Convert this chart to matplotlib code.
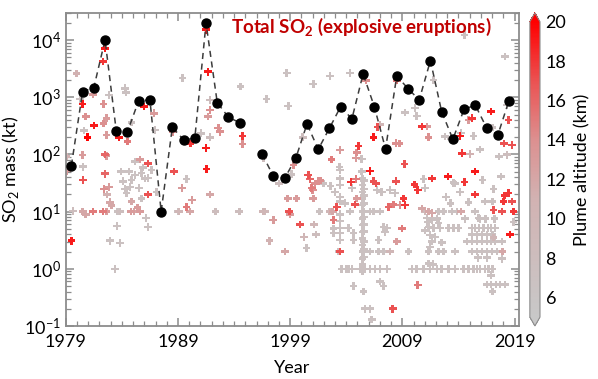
import numpy as np
import matplotlib
matplotlib.use('Agg')
import matplotlib.pyplot as plt
from matplotlib.colors import LinearSegmentedColormap

plt.rcParams['font.family'] = ['Lato', 'DejaVu Sans']
plt.rcParams['mathtext.fontset'] = 'custom'
plt.rcParams['mathtext.rm'] = 'Lato'
plt.rcParams['mathtext.bf'] = 'Lato:bold'
plt.rcParams['axes.unicode_minus'] = False

# annual total SO2 from explosive eruptions (kt), 1979-2018 (1995: none)
years = np.arange(1979, 2019)
annual_total = [64, 1260, 1480, 10100, 258, 251, 875, 900, 10, 300,
                180, 192, 19900, 807, 448, 360, np.nan, 101, 42, 38,
                86, 342, 123, 288, 687, 419, 2570, 687, 125, 2370,
                1420, 900, 4390, 562, 185, 619, 727, 295, 217, 875]

# individual eruptions: decimal year, SO2 mass (kt), plume altitude (km)
erupt_year = [
    # 1979-1989
    1979.12, 1979.51, 1979.65, 1979.05, 1979.95, 1980.25, 1980.49, 1980.78, 1980.94, 1980.49,
    1980.54, 1980.61, 1980.49, 1980.78, 1980.54, 1981.44, 1981.50, 1981.44, 1982.33, 1982.50,
    1982.36, 1982.63, 1982.36, 1982.63, 1982.48, 1982.63, 1982.48, 1982.86, 1982.33, 1982.63,
    1982.39, 1982.86, 1982.68, 1982.93, 1983.08, 1983.61, 1983.82, 1983.58, 1982.93, 1983.82,
    1983.37, 1983.73, 1984.26, 1984.35, 1984.50, 1984.86, 1985.16, 1985.60, 1985.96, 1986.34,
    1986.88, 1986.94, 1988.57, 1988.66, 1984.11, 1984.26, 1983.91, 1984.65, 1984.71, 1984.41,
    1984.86, 1985.16, 1985.75, 1986.05, 1985.90, 1986.34, 1986.65, 1985.54, 1985.75, 1984.86,
    1984.80, 1985.07, 1985.40, 1985.60, 1986.14, 1986.34, 1986.34, 1987.09, 1989.02,
    # 1989-1999
    1989.41, 1990.10, 1991.04, 1991.49, 1991.69, 1991.49, 1991.55, 1991.85, 1991.69, 1991.85,
    1992.59, 1992.74, 1991.85, 1994.76, 1994.76, 1994.58, 1996.90, 1996.60, 1989.77, 1989.37,
    1990.27, 1989.77, 1989.08, 1990.06, 1991.85, 1992.35, 1994.46, 1996.60, 1996.75, 1997.49,
    1997.14, 1998.54, 1998.78, 1998.92, 1998.98, 1998.00, 1999.13, 1999.30, 1998.69, 1998.83,
    1999.58, 1999.87,
    # 2000-2008
    2001.06, 2002.55, 2004.33, 2005.76, 2000.12, 2002.70, 2003.44, 2003.38, 2005.08, 2004.93,
    2004.87, 2005.38, 2006.41, 2006.77, 2007.01, 2008.44, 2008.73, 2008.50, 2000.61, 2000.77,
    2001.21, 2001.51, 2001.72, 2000.92, 2001.06, 2001.95, 2001.12, 2000.23, 2001.30, 2001.60,
    2002.49, 2002.79, 2003.15, 2002.85, 2003.44, 2003.44, 2003.44, 2003.44, 2003.44, 2003.44,
    2003.44, 2003.44, 2003.44, 2003.44, 2003.44, 2002.85, 2004.18, 2004.63, 2004.63, 2004.42,
    2004.49, 2004.87, 2005.38, 2006.12, 2005.45, 2005.45, 2005.45, 2005.45, 2005.45, 2005.45,
    2005.45, 2005.45, 2005.45, 2005.45, 2005.45, 2005.45, 2005.45, 2005.45, 2005.45, 2005.60,
    2005.60, 2005.60, 2005.60, 2005.60, 2005.60, 2005.60, 2005.60, 2005.60, 2005.60, 2005.60,
    2005.60, 2004.78, 2004.93, 2006.12, 2003.59, 2004.04, 2004.18, 2004.49, 2005.23, 2005.67,
    2006.12, 2006.56, 2007.01, 2007.61, 2006.41, 2006.65, 2006.72, 2007.16, 2007.90, 2008.44,
    2008.35, 2008.20, 2007.75, 2007.01, 2006.41, 2006.12, 2007.31, 2007.61, 2007.46, 2006.86,
    2006.86, 2007.31, 2007.90, 2008.50, 2008.95, 2008.14, 2004.63, 2005.52, 2007.01, 2007.31,
    2005.67, 2006.12, 2006.27, 2003.29, 2000.47, 2001.01, 2002.60, 2003.00, 2003.90, 2004.33,
    2002.85,
    # 2009-2018
    2009.18, 2009.24, 2009.09, 2009.24, 2008.80, 2010.13, 2010.73, 2011.18, 2011.77, 2012.81,
    2013.34, 2014.15, 2014.30, 2014.24, 2015.04, 2015.19, 2014.89, 2015.33, 2015.49, 2015.93,
    2016.91, 2017.03, 2018.07, 2018.31, 2018.46, 2018.76, 2018.16, 2014.53, 2010.28, 2011.32,
    2011.62, 2013.55, 2017.63, 2018.31, 2013.05, 2014.53, 2015.49, 2010.07, 2010.37, 2010.87,
    2011.03, 2013.70, 2014.15, 2016.14, 2017.12, 2017.80, 2018.10, 2018.46, 2018.01, 2018.76,
    2018.90, 2018.61, 2017.03, 2017.12, 2017.87, 2016.38, 2015.49, 2014.89, 2014.24, 2013.85,
    2013.41, 2012.66, 2012.21, 2011.32, 2010.73, 2009.54, 2010.37, 2011.18, 2011.62, 2012.07,
    2012.21, 2011.32, 2011.77, 2012.36, 2011.47, 2011.92, 2011.62, 2011.47, 2012.51, 2012.66,
    2012.21, 2011.32, 2011.03, 2011.26, 2011.03, 2013.10, 2013.55, 2014.00, 2015.19, 2015.49,
    2015.84, 2016.23, 2016.62, 2016.91, 2017.27, 2015.19, 2015.64, 2016.08, 2016.53, 2017.03,
    2014.74, 2015.19, 2015.64, 2016.08, 2016.53, 2016.91, 2017.27, 2017.87, 2013.70, 2015.19,
    2015.64, 2016.08, 2016.53, 2016.98, 2017.42, 2015.73, 2016.53, 2009.84, 2010.28, 2010.87,
    2011.47, 2012.07, 2012.51, 2013.10, 2013.70, 2014.44, 2014.89, 2015.33, 2015.64, 2015.93,
    2016.38, 2016.67, 2017.03, 2011.32, 2011.72, 2016.91, 2016.53, 2016.91, 2017.33, 2017.72,
    2018.16, 2017.03, 2017.92, 2017.12, 2017.87, 2018.90, 2015.78, 2012.90, 2013.30, 2014.60,
    2015.90, 2016.40, 2017.20, 2011.62,
]
erupt_mass = [
    # 1979-1989
    51, 3.1, 10.2, 92, 2600, 940, 770, 460, 200, 98,
    61, 261, 10, 9, 36, 10, 320, 1130, 4200, 7200,
    770, 430, 350, 220, 100, 95, 46, 1100, 10, 10,
    25, 27, 20, 14.6, 12.7, 10, 10, 5.6, 3.1, 2.8,
    1.0, 200, 1440, 1210, 168, 360, 75, 82, 690, 70,
    526, 269, 250, 50, 34, 25, 50, 50, 27, 21,
    36, 44, 47, 38, 59, 39, 53, 26, 17, 15,
    10, 10, 11.7, 10, 7.8, 5.4, 20, 22, 10,
    # 1989-1999
    2160, 155, 235, 15200, 2800, 130, 56, 600, 460, 900,
    288, 250, 200, 211, 153, 1540, 927, 86, 37, 26,
    16, 12, 10, 10, 20, 10, 10, 10, 10, 7.1,
    3.1, 2.0, 17, 10, 9, 31, 45, 66, 2640, 706,
    17, 6,
    # 2000-2008
    1720, 2370, 2640, 1960, 200, 82, 120, 60, 141, 108,
    86, 84, 200, 300, 334, 157, 155, 1960, 44, 37,
    31, 34, 35, 26, 17, 31, 6, 3.6, 4.0, 10,
    10, 10, 12, 7.1, 53, 38, 29, 18, 15, 9,
    6.8, 5.2, 4.2, 3.2, 2.0, 4.2, 5.2, 4.2, 3.2, 33,
    26, 37, 50, 51, 38, 29, 22, 17, 13, 10,
    7.6, 5.8, 4.4, 3.4, 2.6, 2.0, 1.5, 1.2, 0.9, 35,
    25, 19, 14, 10, 8, 6, 4.5, 3, 2.2, 1.6,
    1.0, 13.4, 17, 2.0, 1.0, 1.0, 1.0, 1.0, 1.0, 1.0,
    1.0, 1.0, 1.0, 1.0, 34, 31, 24, 22, 24, 34,
    21, 13.4, 12, 10, 10, 10, 5.4, 5.2, 4.4, 3.2,
    2.0, 2.0, 2.0, 3.0, 5.1, 0.2, 0.5, 0.4, 0.6, 0.5,
    0.2, 0.2, 0.13, 2.0, 2.3, 24, 28, 22, 14, 10,
    5.1,
    # 2009-2018
    68, 540, 17, 13, 13, 645, 307, 307, 2000, 205,
    190, 211, 105, 236, 102, 430, 400, 211, 50, 123,
    562, 295, 155, 736, 402, 147, 5160, 12400, 472, 200,
    38, 32, 92, 99, 41, 33, 20, 30, 24, 37,
    26, 31, 22, 36, 25, 41, 19, 21, 15, 15,
    10, 4.0, 15, 10.6, 10, 15, 10, 14.6, 10, 10,
    10, 10, 10, 10, 11.4, 2.0, 0.52, 7.8, 7.1, 7.6,
    6.3, 5.4, 5.2, 5.2, 3.9, 3.6, 3.0, 2.4, 2.9, 2.0,
    2.0, 2.0, 4.7, 6.6, 10, 5.2, 5.2, 5.2, 5.2, 5.2,
    5.2, 5.2, 5.2, 5.2, 5.2, 4.0, 4.0, 4.0, 4.0, 4.0,
    3.0, 3.0, 3.0, 3.0, 3.0, 3.0, 3.0, 3.0, 2.0, 2.0,
    2.0, 2.0, 2.0, 2.0, 2.0, 1.56, 1.56, 1.0, 1.0, 1.0,
    1.0, 1.0, 1.0, 1.0, 1.0, 1.0, 1.0, 1.0, 1.0, 1.0,
    1.0, 1.0, 1.0, 1.24, 1.2, 0.77, 0.53, 0.53, 0.53, 0.53,
    0.53, 0.4, 2.0, 3.5, 1.5, 6.6, 7.8, 18, 14, 7.5,
    7.5, 7.5, 7.5, 9.5,
]
erupt_alt = [
    # 1979-1989
    13, 19, 8, 11, 11, 7, 19, 14, 20, 13,
    7, 7, 12, 12, 17, 15, 19, 13, 18, 19,
    14, 13, 14, 13, 16, 13, 16, 7, 15, 13,
    14, 13, 11, 12, 12, 7, 8, 7, 7, 7,
    7, 19, 7, 7, 15, 7, 7, 13, 19, 17,
    13, 7, 14, 17, 7, 7, 7, 7, 7, 7,
    7, 7, 7, 7, 7, 7, 7, 7, 7, 12,
    13, 12, 13, 13, 7, 7, 17, 7, 7,
    # 1989-1999
    7, 18, 7, 19, 19, 19, 19, 14, 13, 8,
    14, 14, 8, 18, 14, 7, 7, 8, 7, 13,
    13, 15, 10, 12, 12, 8, 8, 10, 9, 13,
    11, 12, 13, 17, 13, 8, 7, 14, 7, 7,
    13, 17,
    # 2000-2008
    7, 7, 7, 14, 8, 15, 13, 7, 18, 14,
    13, 7, 19, 17, 10, 14, 14, 15, 17, 16,
    14, 14, 14, 15, 13, 7, 10, 10, 8, 7,
    10, 12, 17, 15, 7, 7, 7, 7, 7, 7,
    7, 7, 7, 7, 17, 7, 7, 7, 7, 18,
    7, 15, 7, 19, 7, 7, 7, 7, 7, 7,
    7, 7, 7, 7, 7, 7, 7, 7, 7, 7,
    7, 7, 7, 7, 7, 7, 7, 7, 7, 7,
    7, 17, 13, 7, 7, 7, 7, 7, 7, 7,
    7, 7, 7, 7, 17, 17, 7, 7, 7, 17,
    7, 15, 16, 7, 7, 7, 7, 7, 7, 7,
    7, 7, 10, 13, 15, 17, 7, 7, 7, 7,
    7, 7, 7, 7, 7, 14, 7, 7, 7, 7,
    7,
    # 2009-2018
    17, 7, 18, 18, 14, 7, 18, 13, 7, 7,
    7, 19, 18, 7, 11, 18, 13, 7, 19, 7,
    19, 7, 17, 7, 17, 17, 7, 7, 7, 14,
    18, 7, 7, 8, 19, 18, 18, 18, 18, 7,
    7, 7, 7, 7, 7, 7, 18, 18, 18, 17,
    18, 19, 7, 17, 17, 7, 7, 7, 12, 7,
    7, 7, 7, 12, 12, 7, 15, 7, 7, 7,
    7, 7, 7, 7, 7, 7, 7, 7, 7, 7,
    7, 7, 7, 7, 9, 7, 7, 7, 7, 7,
    7, 7, 7, 7, 7, 7, 7, 7, 7, 7,
    7, 7, 7, 7, 7, 7, 7, 7, 7, 7,
    7, 7, 7, 7, 7, 7, 7, 7, 7, 7,
    7, 7, 7, 7, 7, 7, 7, 7, 7, 7,
    7, 7, 7, 7, 7, 7, 7, 7, 7, 7,
    7, 7, 12, 10, 7, 7, 7, 7, 7, 7,
    7, 7, 7, 12,
]

cmap = LinearSegmentedColormap.from_list(
    'grey_red', [(0.0, '#c8c8c8'), (0.4, '#d2b2b2'), (0.6, '#dc9090'),
                 (0.8, '#eb5252'), (1.0, '#ff0000')])

fig = plt.figure(figsize=(5.98, 3.79), dpi=100)
ax = fig.add_axes([0.110, 0.140, 0.758, 0.826])

ex = np.array(erupt_year)
em = np.array(erupt_mass)
ea = np.array(erupt_alt)
order = np.argsort(ea)
sc = ax.scatter(ex[order], em[order], c=ea[order], cmap=cmap, vmin=5, vmax=20,
                marker='P', s=30, linewidths=0, zorder=2)

ax.plot(years + 0.5, annual_total, linestyle=(0, (4, 3)), color='#3c3c3c',
        linewidth=1.1, zorder=3)
ax.plot(years + 0.5, annual_total, 'o', color='black', markersize=6.5, zorder=4)

ax.set_yscale('log')
ax.set_ylim(0.1, 3e4)
ax.set_xlim(1979, 2019.4)
ax.set_xticks([1979, 1989, 1999, 2009, 2019])
ax.set_xticks(np.arange(1979, 2020), minor=True)

for s in ax.spines.values():
    s.set_color('#8c8c8c')
    s.set_linewidth(1.3)
ax.tick_params(which='both', direction='in', top=True, right=True,
               color='#8c8c8c', labelsize=13)
ax.tick_params(which='major', length=6, width=1.1)
ax.tick_params(which='minor', length=3.5, width=0.9)
ax.tick_params(axis='x', pad=6)

ax.set_ylabel('SO$_2$ mass (kt)', fontsize=13, labelpad=2)
ax.set_xlabel('Year', fontsize=13, labelpad=7)

ax.text(0.94, 0.955, r'Total SO$_\mathbf{2}$ (explosive eruptions)',
        transform=ax.transAxes, ha='right', va='center', fontsize=13.5,
        fontweight='bold', color='#c00000', zorder=5)

cax = fig.add_axes([0.886, 0.140, 0.017, 0.826])
cb = fig.colorbar(sc, cax=cax, extend='both', extendfrac=0.03)
cb.set_ticks(np.arange(6, 21, 2))
cb.ax.tick_params(length=0, labelsize=13, pad=4)
cb.outline.set_edgecolor('#8c8c8c')
cb.outline.set_linewidth(0.8)
cb.set_label('Plume altitude (km)', fontsize=13, labelpad=6)

fig.savefig('out.png', dpi=100)
